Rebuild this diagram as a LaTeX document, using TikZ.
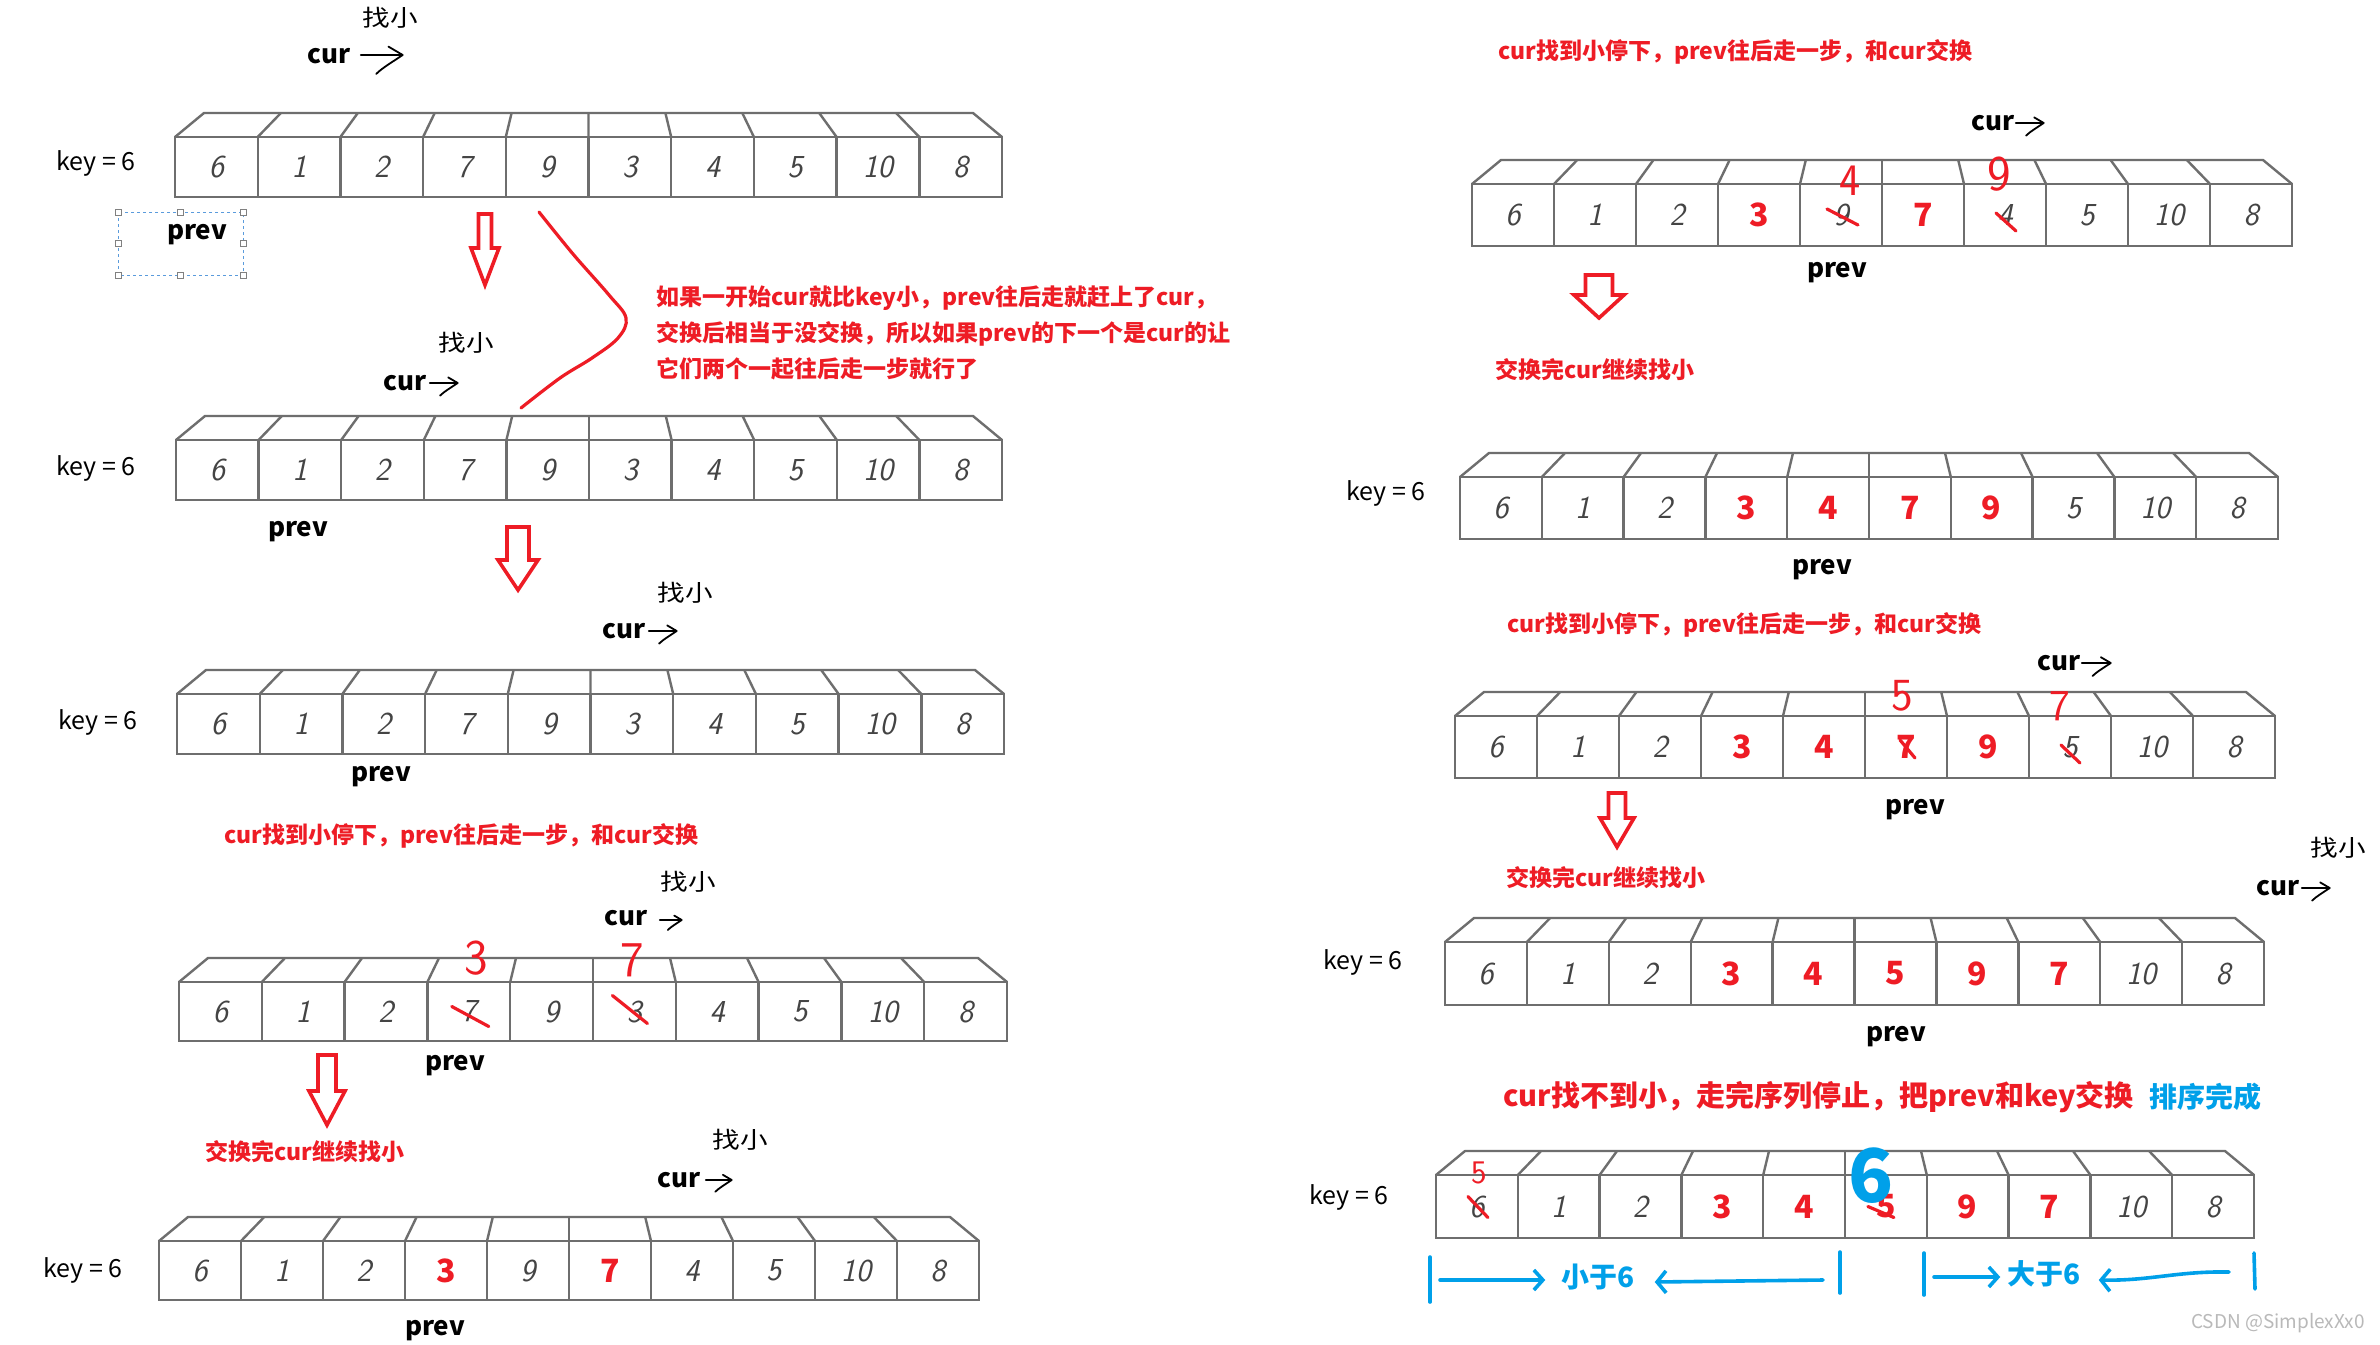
\documentclass[tikz,border=0pt]{standalone}
\usepackage{fontspec}
\newfontfamily\cjk{Noto Sans CJK SC}
\usepackage{tikz}
\usetikzlibrary{arrows.meta,positioning,calc}

\definecolor{boxgray}{HTML}{6E6E6E}
\definecolor{digitgray}{HTML}{444444}
\definecolor{penred}{HTML}{EE1C25}
\definecolor{penblue}{HTML}{00A0E9}
\definecolor{selblue}{HTML}{5A9BDC}

\newcommand{\rd}[1]{\textcolor{penred}{\cjk\upshape\bfseries #1}}

\tikzset{
  cellbox/.style={draw=boxgray, line width=2.4, inner sep=0, outer sep=0,
    text=digitgray, font=\sffamily\slshape\fontsize{32}{32}\selectfont},
  boxedge/.style={draw=boxgray, line width=2.4, line join=round},
  redpen/.style={draw=penred, line width=3.2, line cap=round, line join=round},
  bluepen/.style={draw=penblue, line width=3.6, line cap=round, line join=round},
  hollowarrow/.style={draw=penred, line width=3.6, line join=miter},
  harrow/.style={line width=1.8, line cap=round, line join=round},
  handle/.style={draw=gray, fill=white, line width=0.8},
  keylabel/.style={inner sep=0, font=\cjk\fontsize{25}{27}\selectfont},
  ptr/.style={inner sep=0, font=\cjk\bfseries\fontsize{26}{28}\selectfont},
  findlabel/.style={inner sep=0, xscale=1.2, font=\cjk\fontsize{23}{25}\selectfont},
  redtext/.style={inner sep=0, anchor=west, text=penred, font=\cjk\bfseries\fontsize{23}{26}\selectfont},
  bigred/.style={inner sep=0, anchor=west, text=penred, font=\cjk\bfseries\fontsize{29}{32}\selectfont},
  bluetext/.style={inner sep=0, text=penblue, font=\cjk\bfseries\fontsize{28}{30}\selectfont},
  handnum/.style={inner sep=0, text=penred, font=\sffamily\fontsize{#1}{#1}\selectfont},
  handarrow/.pic={
    \draw (0,0) -- (1,0) (0.66,-0.2) -- (1,0) .. controls (0.78,0.15) and (0.52,0.3) .. (0.37,0.45);
  }
}

% one row of ten cells with its top face: name, left, top, cell width, height, digits
\newcommand{\cellrow}[6]{%
  \foreach \d [count=\i] in {#6}{
    \node[cellbox, minimum width=#4, minimum height=#5, anchor=north west]
      (#1-\i) at ({#2+(\i-1)*#4},#3) {\d};
  }
  \draw[boxedge] (#1-1.north west) -- ({#2+29},{#3-24}) -- ({#2+10*#4-29},{#3-24}) -- (#1-10.north east);
  \foreach \i in {1,...,9}{
    \pgfmathsetmacro\bx{#2+5*#4+(\i-5)*(#4-5.8)}
    \draw[boxedge] (#1-\i.north east) -- (\bx,{#3-24});
  }
}

% hollow red arrow pointing down: x, top, neck, tip, half shaft, half head
\newcommand{\hollowdown}[6]{%
  \draw[hollowarrow] ({#1-#5},#2) -- ({#1+#5},#2) -- ({#1+#5},#3) -- ({#1+#6},#3)
    -- (#1,#4) -- ({#1-#6},#3) -- ({#1-#5},#3) -- cycle;
}

\begin{document}
\begin{tikzpicture}[x=1pt, y=-1pt]
  \useasboundingbox (0,0) rectangle (2380,1344);
  \fill[white] (0,0) rectangle (2380,1344);

  % ---------- left column ----------
  \node[findlabel] (find1) at (390,18) {找小};
  \node[ptr] (cur1) at (329,56) {cur};
  \pic[harrow, scale=42] at ($(cur1.east)+(10,-1)$) {handarrow};
  \node[keylabel] (key1) at (96,163) {key = 6};
  \cellrow{a1}{175}{137}{82.7}{60}{6,1,2,7,9,3,4,5,10,8}
  \draw[selblue, dashed, line width=0.9] (118,212) rectangle (243,275);
  \foreach \p in {(118,212),(180.5,212),(243,212),(118,243.5),(243,243.5),(118,275),(180.5,275),(243,275)}
    \draw[handle] \p ++(-3,-3) rectangle ++(6,6);
  \node[ptr] (prev1) at (197,235) {prev};
  \hollowdown{485}{214}{248}{285}{6.5}{14}
  \draw[redpen] plot[smooth, tension=0.6] coordinates
    {(539,212) (573,254) (609,295) (626,318) (618,338) (592,358) (560,378) (521,408)};
  \node[redtext] (note1) at (656,298) {如果一开始cur就比key小，prev往后走就赶上了cur，};
  \node[redtext] (note2) at (656,334) {交换后相当于没交换，所以如果prev的下一个是cur的让};
  \node[redtext] (note3) at (656,369) {它们两个一起往后走一步就行了};

  \node[findlabel] (find2) at (466,343) {找小};
  \node[ptr] (cur2) at (405,383) {cur};
  \pic[harrow, scale=28] at ($(cur2.east)+(3,0)$) {handarrow};
  \node[keylabel] (key2) at (96,468) {key = 6};
  \cellrow{a2}{176}{440}{82.6}{60}{6,1,2,7,9,3,4,5,10,8}
  \node[ptr] (prev2) at (298,532) {prev};
  \hollowdown{518}{527}{560}{590}{11}{20}

  \node[findlabel] (find3) at (685,593) {找小};
  \node[ptr] (cur3) at (624,631) {cur};
  \pic[harrow, scale=28] at ($(cur3.east)+(3,0)$) {handarrow};
  \node[keylabel] (key3) at (98,722) {key = 6};
  \cellrow{a3}{177}{694}{82.7}{60}{6,1,2,7,9,3,4,5,10,8}
  \node[ptr] (prev3) at (381,777) {prev};

  \node[redtext] (step1) at (224,836) {cur找到小停下，prev往后走一步，和cur交换};
  \node[findlabel] (find4) at (688,882) {找小};
  \node[ptr] (cur4) at (626,918) {cur};
  \pic[harrow, scale=22] at ($(cur4.east)+(12,2)$) {handarrow};
  \cellrow{a4}{179}{982}{82.8}{59}{6,1,2,7,9,3,4,5,10,8}
  \draw[redpen] ($(a4-4.center)+(-17,-5)$) -- ($(a4-4.center)+(20,15)$);
  \draw[redpen] ($(a4-6.center)+(-22,-16)$) -- ($(a4-6.center)+(13,12)$);
  \node[handnum=50] (new3) at ($(a4-4.center)+(7,-53)$) {3};
  \node[handnum=50] (new7) at ($(a4-6.center)+(-2,-51)$) {7};
  \node[ptr] (prev4) at (455,1066) {prev};
  \hollowdown{327}{1055}{1091}{1125}{9}{18}

  \node[redtext] (swap1) at (205,1152) {交换完cur继续找小};
  \node[findlabel] (find5) at (740,1140) {找小};
  \node[ptr] (cur5) at (679,1180) {cur};
  \pic[harrow, scale=26] at ($(cur5.east)+(5,0)$) {handarrow};
  \node[keylabel] (key5) at (83,1270) {key = 6};
  \cellrow{a5}{159}{1241}{82.0}{59}{6,1,2,\rd{3},9,\rd{7},4,5,10,8}
  \node[ptr] (prev5) at (435,1331) {prev};

  % ---------- right column ----------
  \node[redtext] (step2) at (1498,52) {cur找到小停下，prev往后走一步，和cur交换};
  \node[ptr] (cur6) at (1993,123) {cur};
  \pic[harrow, scale=28] at ($(cur6.east)+(1,0)$) {handarrow};
  \cellrow{b1}{1472}{184}{82.0}{62}{6,1,2,\rd{3},9,\rd{7},4,5,10,8}
  \draw[redpen] ($(b1-5.center)+(-14,-6)$) -- ($(b1-5.center)+(17,10)$);
  \draw[redpen] ($(b1-7.center)+(-9,-2)$) -- ($(b1-7.center)+(11,16)$);
  \node[handnum=45] (new4) at ($(b1-5.center)+(9,-34)$) {4};
  \node[handnum=50] (new9) at ($(b1-7.center)+(-6,-41)$) {9};
  \node[ptr] (prev6) at (1837,273) {prev};
  \hollowdown{1599}{275}{295}{318}{13.5}{25}
  \node[redtext] (swap2) at (1495,370) {交换完cur继续找小};

  \node[keylabel] (key7) at (1386,493) {key = 6};
  \cellrow{b2}{1460}{477}{81.8}{62}{6,1,2,\rd{3},\rd{4},\rd{7},\rd{9},5,10,8}
  \node[ptr] (prev7) at (1822,570) {prev};

  \node[redtext] (step3) at (1507,625) {cur找到小停下，prev往后走一步，和cur交换};
  \node[ptr] (cur8) at (2059,663) {cur};
  \pic[harrow, scale=29] at ($(cur8.east)+(1,0)$) {handarrow};
  \cellrow{b3}{1455}{716}{82.0}{62}{6,1,2,\rd{3},\rd{4},\rd{7},\rd{9},5,10,8}
  \draw[redpen] ($(b3-6.center)+(-6,-7)$) -- ($(b3-6.center)+(9,11)$);
  \draw[redpen] ($(b3-8.center)+(-9,-2)$) -- ($(b3-8.center)+(10,16)$);
  \node[handnum=46] (new5) at ($(b3-6.center)+(-4,-51)$) {5};
  \node[handnum=44] (new7b) at ($(b3-8.center)+(-10,-41)$) {7};
  \node[ptr] (prev8) at (1915,810) {prev};
  \hollowdown{1617}{793}{818}{847}{8.5}{17}

  \node[findlabel] (find9) at (2338,848) {找小};
  \node[ptr] (cur9) at (2278,888) {cur};
  \pic[harrow, scale=28] at ($(cur9.east)+(2,0)$) {handarrow};
  \node[redtext] (swap3) at (1506,878) {交换完cur继续找小};
  \node[keylabel] (key9) at (1363,962) {key = 6};
  \cellrow{b4}{1445}{942}{81.9}{63}{6,1,2,\rd{3},\rd{4},\rd{5},\rd{9},\rd{7},10,8}
  \node[ptr] (prev9) at (1896,1037) {prev};

  \node[bigred] (final) at (1503,1097) {cur找不到小，走完序列停止，把prev和key交换};
  \node[bluetext, anchor=west, right=15 of final] (done) {排序完成};
  \node[keylabel] (key10) at (1349,1197) {key = 6};
  \cellrow{b5}{1436}{1175}{81.8}{63}{6,1,2,\rd{3},\rd{4},\rd{5},\rd{9},\rd{7},10,8}
  \draw[redpen] ($(b5-1.center)+(-9,-10)$) -- ($(b5-1.center)+(11,11)$);
  \draw[redpen] ($(b5-6.center)+(-18,0)$) -- ($(b5-6.center)+(8,11)$);
  \node[handnum=33] (new5b) at ($(b5-1.center)+(2,-34)$) {5};
  \node[inner sep=0, text=penblue, font=\cjk\bfseries\fontsize{74}{74}\selectfont] (new6)
    at ($(b5-6.center)+(-15,-31)$) {6};

  % split of the sorted row
  \draw[bluepen] (1430,1257) -- (1430,1302);
  \draw[bluepen] (1840,1252) -- (1840,1293);
  \draw[bluepen] (1924,1253) -- (1924,1295);
  \draw[bluepen] (2254,1253) -- (2255,1289);
  \node[bluetext] (less) at (1598,1277) {小于6};
  \node[bluetext] (more) at (2044,1274) {大于6};
  \coordinate (lessL) at (1440,1280);
  \coordinate (lessR) at (1823,1280);
  \coordinate (moreL) at (1934,1277);
  \coordinate (moreR) at (2229,1272);
  \draw[bluepen, -{Straight Barb[length=9pt, width=20pt]}] (lessL) -- ($(less.west)+(-16,3)$);
  \draw[bluepen, -{Straight Barb[length=9pt, width=22pt]}] (lessR) -- ($(less.east)+(20,5)$);
  \draw[bluepen, -{Straight Barb[length=9pt, width=20pt]}] (moreL) -- ($(more.west)+(-7,3)$);
  \draw[bluepen, -{Straight Barb[length=9pt, width=22pt]}] (moreR)
    .. controls (2177,1271) and (2150,1281) .. ($(more.east)+(18,6)$);

  \node[inner sep=0, text=gray!55, font=\cjk\fontsize{19}{20}\selectfont] (mark) at (2278,1323) {CSDN @SimplexXx0};
\end{tikzpicture}
\end{document}
